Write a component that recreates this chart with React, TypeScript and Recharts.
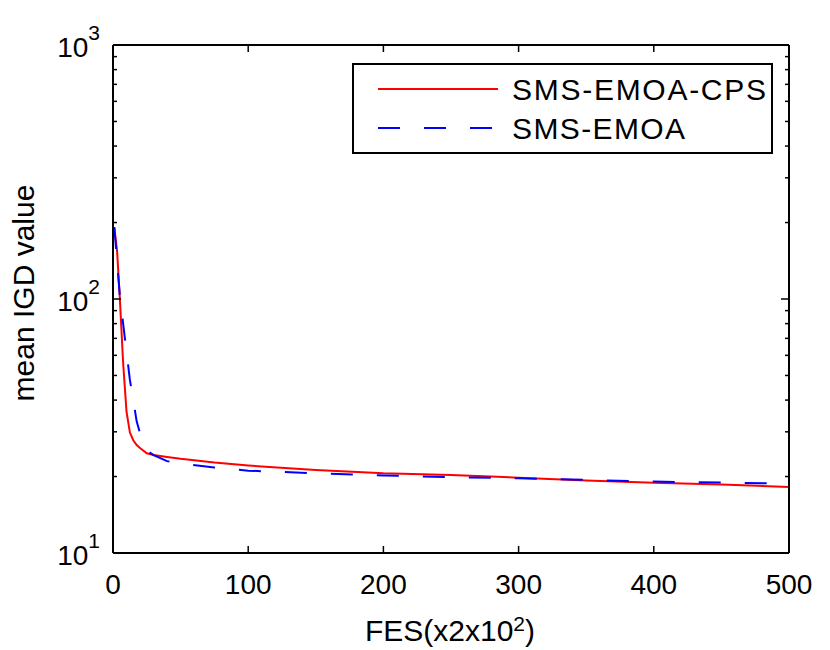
import React from 'react';
import { LineChart, Line, XAxis, YAxis, Legend } from 'recharts';

const FONT = '"Liberation Sans", Arial, Helvetica, sans-serif';

// FES (x2x10^2) sample points
const fes = [1, 3, 5, 7.5, 10, 12.5, 15, 17.5, 20, 25, 30, 40, 50, 75, 100, 150, 200, 250, 300, 350, 400, 450, 500];
// mean IGD, SMS-EMOA-CPS
const cpsIgd = [190, 155, 102, 56, 36, 29.8, 27.8, 26.6, 25.9, 24.7, 24.3, 23.9, 23.5, 22.7, 22.1, 21.2, 20.6, 20.3, 19.8, 19.3, 18.9, 18.6, 18.2];
// mean IGD, SMS-EMOA
const emoaIgd = [192, 140, 104, 80, 62, 48, 40, 33, 29.6, 25.3, 24.3, 23.0, 22.5, 21.7, 21.1, 20.6, 20.2, 19.9, 19.7, 19.4, 19.1, 18.95, 18.75];

const seriesNames = ['SMS-EMOA-CPS', 'SMS-EMOA'];
const seriesKeys = ['cps', 'emoa'];
const seriesColors = ['#ff0000', '#0000ff'];
const seriesDash = ['', '22 24'];
const legendTextWidths = [254, 173];

const xTicks = [0, 100, 200, 300, 400, 500];
const yTicks = [10, 20, 30, 40, 50, 60, 70, 80, 90, 100, 200, 300, 400, 500, 600, 700, 800, 900, 1000];
const yMajor = [10, 100, 1000];
const yLabels = ['1', '2', '3'];

const chartData = fes.map((f, i) => ({ fes: f, cps: cpsIgd[i], emoa: emoaIgd[i] }));

const XBottomTick = (props: any) => {
  const { x, y, payload } = props;
  return (
    <g>
      <line x1={x} y1={y} x2={x} y2={y - 7} stroke="#000" strokeWidth={1.5} />
      <text x={x} y={y + 41} textAnchor="middle" fontSize={28} fontFamily={FONT} fill="#000">
        {payload.value}
      </text>
    </g>
  );
};

const XTopTick = (props: any) => {
  const { x, y } = props;
  return <line x1={x} y1={y} x2={x} y2={y + 7} stroke="#000" strokeWidth={1.5} />;
};

const YLeftTick = (props: any) => {
  const { x, y, payload } = props;
  const idx = yMajor.indexOf(payload.value);
  const major = idx >= 0;
  return (
    <g>
      <line x1={x} y1={y} x2={x + (major ? 8 : 4)} y2={y} stroke="#000" strokeWidth={1.5} />
      {major && (
        <text x={x - 13} y={y + 12} textAnchor="end" fontSize={28} fontFamily={FONT} fill="#000">
          10
          <tspan dy={-17} fontSize={21}>{yLabels[idx]}</tspan>
        </text>
      )}
    </g>
  );
};

const YRightTick = (props: any) => {
  const { x, y, payload } = props;
  const major = yMajor.indexOf(payload.value) >= 0;
  return <line x1={x} y1={y} x2={x - (major ? 8 : 4)} y2={y} stroke="#000" strokeWidth={1.5} />;
};

const LegendBox = (props: any) => {
  const payload = props.payload || [];
  return (
    <svg width={422} height={92} style={{ display: 'block' }}>
      <rect x={1} y={1} width={419} height={89} fill="#fff" stroke="#000" strokeWidth={2} />
      {payload.map((entry: any, i: number) => {
        const k = seriesNames.indexOf(entry.value);
        const idx = k >= 0 ? k : i;
        const ly = 26 + idx * 39;
        return (
          <g key={entry.value}>
            <line
              x1={26}
              y1={ly}
              x2={146}
              y2={ly}
              stroke={seriesColors[idx]}
              strokeWidth={2}
              strokeDasharray={seriesDash[idx] || undefined}
            />
            <text
              x={160}
              y={ly + 11}
              fontSize={30}
              fontFamily={FONT}
              fill="#000"
              textLength={legendTextWidths[idx]}
              lengthAdjust="spacing"
            >
              {entry.value}
            </text>
          </g>
        );
      })}
    </svg>
  );
};

export default function App() {
  return (
    <div style={{ position: 'absolute', left: 0, top: 0, width: 830, height: 650, background: '#fff' }}>
      <LineChart width={830} height={650} data={chartData} margin={{ top: 35, right: 31, bottom: 27, left: 0 }}>
        <XAxis
          xAxisId="b"
          dataKey="fes"
          type="number"
          domain={[0, 500]}
          allowDataOverflow
          ticks={xTicks}
          interval={0}
          tickSize={0}
          tickMargin={0}
          tick={<XBottomTick />}
          height={70}
          axisLine={{ stroke: '#000', strokeWidth: 2 }}
          tickLine={false}
        />
        <XAxis
          xAxisId="t"
          orientation="top"
          dataKey="fes"
          type="number"
          domain={[0, 500]}
          allowDataOverflow
          ticks={xTicks}
          interval={0}
          tickSize={0}
          tickMargin={0}
          tick={<XTopTick />}
          height={10}
          axisLine={{ stroke: '#000', strokeWidth: 2 }}
          tickLine={false}
        />
        <YAxis
          yAxisId="l"
          scale="log"
          type="number"
          domain={[10, 1000]}
          allowDataOverflow
          ticks={yTicks}
          interval={0}
          tickSize={0}
          tickMargin={0}
          tick={<YLeftTick />}
          width={113}
          axisLine={{ stroke: '#000', strokeWidth: 2 }}
          tickLine={false}
        />
        <YAxis
          yAxisId="r"
          orientation="right"
          scale="log"
          type="number"
          domain={[10, 1000]}
          allowDataOverflow
          ticks={yTicks}
          interval={0}
          tickSize={0}
          tickMargin={0}
          tick={<YRightTick />}
          width={10}
          axisLine={{ stroke: '#000', strokeWidth: 2 }}
          tickLine={false}
        />
        {seriesKeys.map((key, i) => (
          <Line
            key={key}
            xAxisId="b"
            yAxisId="l"
            type="linear"
            dataKey={key}
            name={seriesNames[i]}
            stroke={seriesColors[i]}
            strokeWidth={2}
            strokeDasharray={seriesDash[i] || undefined}
            dot={false}
            activeDot={false}
            isAnimationActive={false}
          />
        ))}
        <Legend
          layout="horizontal"
          verticalAlign="middle"
          align="center"
          content={<LegendBox />}
          wrapperStyle={{ left: 352, top: 63, width: 422, height: 92 }}
        />
        <text x={34} y={293} transform="rotate(-90, 34, 293)" textAnchor="middle" fontSize={30} fontFamily={FONT} fill="#000">
          mean IGD value
        </text>
        <text x={450} y={641} textAnchor="middle" fontSize={30} fontFamily={FONT} fill="#000">
          FES(x2x10<tspan dy={-10} fontSize={21}>2</tspan><tspan dy={10}>)</tspan>
        </text>
      </LineChart>
    </div>
  );
}
